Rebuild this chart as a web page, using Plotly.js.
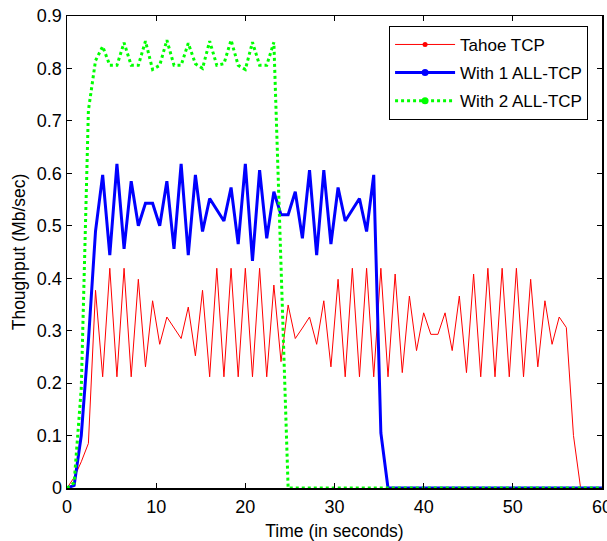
<!DOCTYPE html>
<html>
<head>
<meta charset="utf-8">
<script src="https://cdn.plot.ly/plotly-3.0.1.min.js"></script>
<style>
html,body{margin:0;padding:0;background:#fff;}
#chart{width:607px;height:541px;}
</style>
</head>
<body>
<div id="chart"></div>
<script>
// Time samples (seconds)
const time = [0,0.8,1.6,2.4,3.2,4,4.8,5.6,6.4,7.2,8,8.8,9.6,10.4,11.2,12,12.8,13.6,14.4,15.2,16,16.8,17.6,18.4,19.2,20,20.8,21.6,22.4,23.2,24,24.8,25.6,26.4,27.2,28,28.8,29.6,30.4,31.2,32,32.8,33.6,34.4,35.2,36,36.8,37.6,38.4,39.2,40,40.8,41.6,42.4,43.2,44,44.8,45.6,46.4,47.2,48,48.8,49.6,50.4,51.2,52,52.8,53.6,54.4,55.2,56,56.8,57.6,58.4,59.2,60];

// Tahoe TCP throughput (Mb/sec)
const tahoe = [0,0.02,0.05,0.085,0.377,0.212,0.419,0.212,0.419,0.212,
  0.398,0.231,0.357,0.274,0.326,0.306,0.285,0.345,0.252,0.377,
  0.212,0.419,0.212,0.419,0.212,0.419,0.212,0.419,0.212,0.387,
  0.241,0.349,0.285,0.305,0.326,0.274,0.357,0.231,0.398,0.212,
  0.419,0.212,0.419,0.212,0.419,0.212,0.408,0.22,0.366,0.262,
  0.334,0.293,0.293,0.334,0.262,0.366,0.22,0.408,0.212,0.419,
  0.212,0.419,0.212,0.419,0.212,0.398,0.231,0.357,0.274,0.326,
  0.306,0.10,0,0,0,0];

// With 1 ALL-TCP
const all1 = [0,0.005,0.1,0.28,0.49,0.597,0.444,0.618,0.456,0.585,
  0.5,0.543,0.543,0.5,0.585,0.456,0.618,0.444,0.597,0.489,
  0.552,0.531,0.509,0.573,0.465,0.618,0.433,0.606,0.476,0.565,
  0.521,0.521,0.565,0.476,0.606,0.444,0.606,0.465,0.573,0.509,
  0.531,0.552,0.489,0.597,0.105,0,0,0,0,0,
  0,0,0,0,0,0,0,0,0,0,
  0,0,0,0,0,0,0,0,0,0,
  0,0,0,0,0,0];

// With 2 ALL-TCP
const all2 = [0,0.01,0.19,0.72,0.815,0.842,0.806,0.806,0.849,0.806,
  0.806,0.852,0.798,0.806,0.854,0.806,0.806,0.848,0.809,0.8,
  0.852,0.806,0.809,0.854,0.806,0.798,0.85,0.806,0.806,0.85,
  0.425,0,0,0,0,0,0,0,0,0,
  0,0,0,0,0,0,0,0,0,0,
  0,0,0,0,0,0,0,0,0,0,
  0,0,0,0,0,0,0,0,0,0,
  0,0,0,0,0,0];

const seriesNames = ['Tahoe TCP','With 1 ALL-TCP','With 2 ALL-TCP'];
const xTickVals = [0,10,20,30,40,50,60];
const yTickVals = [0,0.1,0.2,0.3,0.4,0.5,0.6,0.7,0.8,0.9];

const FONT = '"Liberation Sans", Arial, sans-serif';

const traces = [
  {x: time, y: tahoe, mode:'lines', line:{color:'#ff0000', width:1}, showlegend:false, cliponaxis:false, hoverinfo:'skip'},
  {x: time, y: all1, mode:'lines', line:{color:'#0000ff', width:3}, showlegend:false, cliponaxis:false, hoverinfo:'skip'},
  {x: time, y: all2, mode:'lines', line:{color:'#00ff00', width:3, dash:'dot'}, showlegend:false, cliponaxis:false, hoverinfo:'skip'},
  // legend entries
  {x:[null], y:[null], name: seriesNames[0], legendgroup:'a', mode:'lines+markers', line:{color:'#ff0000', width:1}, marker:{color:'#ff0000', size:5}},
  {x:[null], y:[null], name: seriesNames[1], legendgroup:'b', mode:'lines+markers', line:{color:'#0000ff', width:3}, marker:{color:'#0000ff', size:7}},
  {x:[null], y:[null], name: seriesNames[2], legendgroup:'c', mode:'lines+markers', line:{color:'#00ff00', width:3, dash:'dot'}, marker:{color:'#00ff00', size:7}}
];

const axisCommon = {
  showline:true, linecolor:'#000', linewidth:1.5, mirror:'ticks',
  ticks:'inside', ticklen:5, tickwidth:1, tickcolor:'#000',
  showgrid:false, zeroline:false,
  tickfont:{family:FONT, size:18, color:'#000'}
};

const layout = {
  width:607, height:541,
  margin:{l:67, r:5, t:16, b:53},
  paper_bgcolor:'#fff', plot_bgcolor:'#fff',
  font:{family:FONT, size:17.5, color:'#000'},
  xaxis: Object.assign({}, axisCommon, {
    range:[0,60], tickvals:xTickVals, ticktext:xTickVals.map(String),
    ticklabeloverflow:'allow', ticklabelstandoff:2,
    title:{text:'Time (in seconds)', font:{family:FONT, size:17.5, color:'#000'}, standoff:8}
  }),
  yaxis: Object.assign({}, axisCommon, {
    range:[0,0.9], tickvals:yTickVals, ticktext:yTickVals.map(String),
    title:{text:'Thoughput (Mb/sec)', font:{family:FONT, size:17.5, color:'#000'}, standoff:6}
  }),
  legend:{
    x:0.602, y:0.979, xanchor:'left', yanchor:'top',
    bgcolor:'#fff', bordercolor:'#000', borderwidth:1,
    font:{family:FONT, size:17, color:'#000'},
    itemwidth:60, tracegroupgap:3
  },
  showlegend:true
};

Plotly.newPlot('chart', traces, layout, {displayModeBar:false, staticPlot:true});
</script>
</body>
</html>
